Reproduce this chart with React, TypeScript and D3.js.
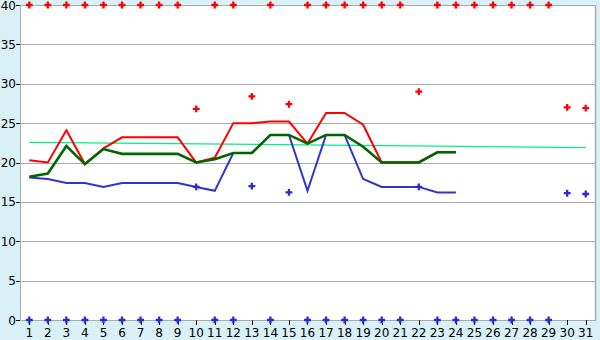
import React from "react";
import * as d3 from "d3";

const days = d3.range(1, 32).map(String);
const yTicks = [0, 5, 10, 15, 20, 25, 30, 35, 40];

const redLine = [20.3, 20.0, 24.1, 19.8, 21.8, 23.2, 23.2, 23.2, 23.2, 20.0, 20.6, 25.0, 25.0, 25.2, 25.2, 22.4, 26.3, 26.3, 24.8, 20.0, 20.0, 20.0, 21.3, 21.3];
const blueLine = [18.1, 17.9, 17.4, 17.4, 16.9, 17.4, 17.4, 17.4, 17.4, 16.9, 16.4, 21.2, 21.2, 23.5, 23.5, 16.4, 23.5, 23.5, 17.9, 16.9, 16.9, 16.9, 16.2, 16.2];
const greenLine = [18.2, 18.6, 22.1, 19.8, 21.7, 21.1, 21.1, 21.1, 21.1, 20.0, 20.4, 21.2, 21.2, 23.5, 23.5, 22.4, 23.5, 23.5, 22.0, 20.0, 20.0, 20.0, 21.3, 21.3];
const trendDays = ["1", "31"];
const trendValues = [22.56, 21.9];

const redMarkers: [string, number][] = [
  ["1", 40], ["2", 40], ["3", 40], ["4", 40], ["5", 40], ["6", 40], ["7", 40], ["8", 40], ["9", 40],
  ["10", 26.8], ["11", 40], ["12", 40], ["13", 28.4], ["14", 40], ["15", 27.4],
  ["16", 40], ["17", 40], ["18", 40], ["19", 40], ["20", 40], ["21", 40], ["22", 29.0],
  ["23", 40], ["24", 40], ["25", 40], ["26", 40], ["27", 40], ["28", 40], ["29", 40],
  ["30", 27.0], ["31", 26.9],
];
const blueMarkers: [string, number][] = [
  ["1", 0], ["2", 0], ["3", 0], ["4", 0], ["5", 0], ["6", 0], ["7", 0], ["8", 0], ["9", 0],
  ["10", 16.9], ["11", 0], ["12", 0], ["13", 17.0], ["14", 0], ["15", 16.2],
  ["16", 0], ["17", 0], ["18", 0], ["19", 0], ["20", 0], ["21", 0], ["22", 16.9],
  ["23", 0], ["24", 0], ["25", 0], ["26", 0], ["27", 0], ["28", 0], ["29", 0],
  ["30", 16.1], ["31", 16.0],
];

const W = 600, H = 340;
const L = 20, R = 595, T = 5, B = 320;

export default function App() {
  const x = d3.scaleBand<string>().domain(days).range([L, R]);
  const cx = (d: string) => (x(d) as number) + x.bandwidth() / 2;
  const y = d3.scaleLinear().domain([0, 40]).range([B, T]);
  const line = d3.line<number>().x((_, i) => cx(days[i])).y((v) => y(v));
  const trend = d3.line<number>().x((_, i) => cx(trendDays[i])).y((v) => y(v));
  const sym = d3.symbol().type(d3.symbolCross).size(26)();
  const font = "DejaVu Sans, Verdana, sans-serif";
  return (
    <svg width={W} height={H} style={{ position: "absolute", left: 0, top: 0, display: "block" }}>
      <rect x={0} y={0} width={W} height={H} fill="#daf0f7" />
      <rect x={L} y={T} width={R - L} height={B - T} fill="#ffffff" />
      {yTicks.map((t) => (
        <g key={t}>
          <line x1={L} x2={R} y1={Math.round(y(t)) + 0.5} y2={Math.round(y(t)) + 0.5} stroke="#aaaaaa" />
          <line x1={L - 4} x2={L} y1={Math.round(y(t)) + 0.5} y2={Math.round(y(t)) + 0.5} stroke="#000" />
          <text x={L - 4} y={y(t) + 4.5} textAnchor="end" fontSize={12} fontFamily={font} fill="#000">{t}</text>
        </g>
      ))}
      <line x1={L + 0.5} x2={L + 0.5} y1={T} y2={B} stroke="#aaaaaa" />
      <line x1={R + 0.5} x2={R + 0.5} y1={T} y2={B + 1} stroke="#aaaaaa" strokeWidth={1.5} />
      {days.map((d) => (
        <g key={d}>
          <line x1={Math.round(cx(d)) + 0.5} x2={Math.round(cx(d)) + 0.5} y1={B} y2={B + 5} stroke="#000" />
          <text x={cx(d)} y={B + 17} textAnchor="middle" fontSize={12} fontFamily={font} fill="#000">{d}</text>
        </g>
      ))}
      <path d={trend(trendValues) || ""} fill="none" stroke="#00f080" strokeWidth={1.2} />
      <path d={line(blueLine) || ""} fill="none" stroke="#3333cc" strokeWidth={2} />
      <path d={line(redLine) || ""} fill="none" stroke="#ff0000" strokeWidth={2} />
      <path d={line(greenLine) || ""} fill="none" stroke="#006600" strokeWidth={2.6} />
      {redMarkers.map(([d, v]) => (
        <path key={"r" + d} d={sym || ""} transform={`translate(${cx(d)},${y(v)})`} fill="#ff0000" />
      ))}
      {blueMarkers.map(([d, v]) => (
        <path key={"b" + d} d={sym || ""} transform={`translate(${cx(d)},${y(v)})`} fill="#2a2ad0" />
      ))}
    </svg>
  );
}
